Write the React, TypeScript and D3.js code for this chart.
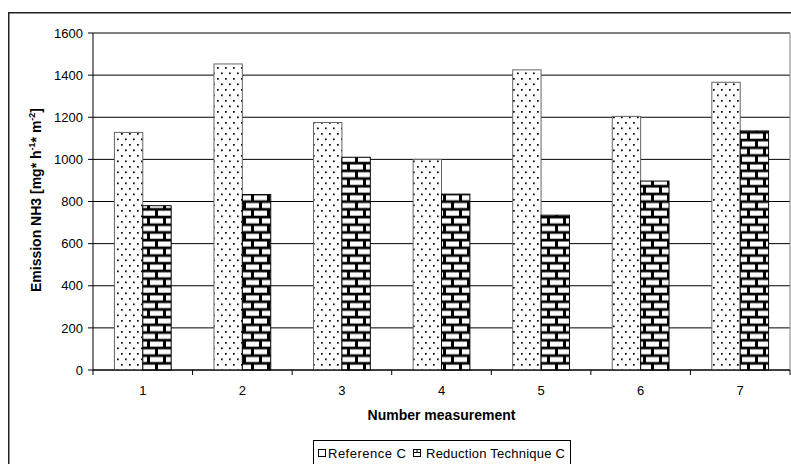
import React from "react";
import * as d3 from "d3";

const categories = ["1", "2", "3", "4", "5", "6", "7"];
const referenceC = [1128, 1453, 1175, 1000, 1425, 1204, 1366];
const reductionC = [780, 833, 1010, 835, 735, 897, 1135];
const yTicks = [0, 200, 400, 600, 800, 1000, 1200, 1400, 1600];
const seriesNames = ["Reference C", "Reduction Technique C"];

const W = 791, H = 464;
const left = 93, right = 790, top = 33, bottom = 370;
const font = "Liberation Sans, Arial, sans-serif";

export default function App() {
  const x = d3.scaleBand<string>().domain(categories).range([left, right]).paddingInner(0).paddingOuter(0);
  const y = d3.scaleLinear().domain([0, 1600]).range([bottom, top]);
  const bw = x.bandwidth();
  const groupPad = bw * 0.215;
  const barW = (bw - 2 * groupPad) / 2;

  return (
    <svg width={W} height={H} style={{ position: "absolute", left: 0, top: 0, background: "#fff" }} fontFamily={font}>
      <defs>
        <pattern id="dots" patternUnits="userSpaceOnUse" width={8} height={11}>
          <rect width={8} height={11} fill="#fff" />
          <rect x={1} y={1} width={1.7} height={1.7} fill="#000" />
          <rect x={5} y={6.5} width={1.7} height={1.7} fill="#000" />
        </pattern>
        <pattern id="bricks" patternUnits="userSpaceOnUse" width={16} height={15.4} x={left} y={bottom}>
          <rect width={16} height={15.4} fill="#000" />
          <rect x={0} y={2.4} width={6} height={5} fill="#fff" />
          <rect x={9} y={2.4} width={7} height={5} fill="#fff" />
          <rect x={1} y={10.1} width={13} height={5} fill="#fff" />
        </pattern>
      </defs>
      <rect x={8.75} y={12.75} width={W} height={H} fill="none" stroke="#222" strokeWidth={1.5} />
      {/* gridlines */}
      {yTicks.map((t) => (
        <line key={"g" + t} x1={left} x2={right} y1={y(t)} y2={y(t)} stroke="#000" strokeWidth={1} />
      ))}
      <line x1={right} x2={right} y1={top} y2={bottom} stroke="#808080" strokeWidth={1} />
      {/* bars */}
      {categories.map((c, i) => {
        const x0 = (x(c) as number) + groupPad;
        return (
          <g key={c}>
            <rect x={x0} y={y(referenceC[i])} width={barW} height={bottom - y(referenceC[i])} fill="url(#dots)" stroke="#666" strokeWidth={1} />
            <rect x={x0 + barW} y={y(reductionC[i])} width={barW} height={bottom - y(reductionC[i])} fill="url(#bricks)" stroke="#000" strokeWidth={1} />
          </g>
        );
      })}
      {/* axes */}
      <line x1={left} x2={left} y1={top} y2={bottom} stroke="#000" />
      <line x1={left} x2={right} y1={bottom} y2={bottom} stroke="#000" />
      {yTicks.map((t) => (
        <g key={"t" + t}>
          <line x1={left - 5} x2={left} y1={y(t)} y2={y(t)} stroke="#000" />
          <text x={left - 10} y={y(t)} dy="0.36em" textAnchor="end" fontSize={13}>{t}</text>
        </g>
      ))}
      {categories.map((c) => (
        <line key={"xt" + c} x1={x(c) as number} x2={x(c) as number} y1={bottom} y2={bottom + 5} stroke="#000" />
      ))}
      <line x1={right} x2={right} y1={bottom} y2={bottom + 5} stroke="#000" />
      {categories.map((c) => (
        <text key={"xl" + c} x={(x(c) as number) + bw / 2} y={395} textAnchor="middle" fontSize={13}>{c}</text>
      ))}
      <text x={(left + right) / 2} y={420} textAnchor="middle" fontSize={14} fontWeight="bold">Number measurement</text>
      <text transform={`translate(41,200) rotate(-90)`} textAnchor="middle" fontSize={14} fontWeight="bold">
        Emission NH3 [mg* h<tspan fontSize={9} dy={-6}>-1</tspan><tspan dy={6}>* m</tspan><tspan fontSize={9} dy={-6}>-2</tspan><tspan dy={6}>]</tspan>
      </text>
      {/* legend */}
      <rect x={313.5} y={440.5} width={257} height={30} fill="#fff" stroke="#000" />
      <rect x={318.5} y={449.5} width={7} height={7} fill="#fff" stroke="#000" />
      <text x={328} y={458} fontSize={13} textLength={78} lengthAdjust="spacing">{seriesNames[0]}</text>
      <rect x={413.5} y={449.5} width={7} height={7} fill="#fff" stroke="#000" />
      <line x1={413.5} x2={420.5} y1={452.5} y2={452.5} stroke="#000" />
      <line x1={417} x2={417} y1={449.5} y2={452.5} stroke="#000" />
      <text x={426} y={458} fontSize={13} textLength={139} lengthAdjust="spacing">{seriesNames[1]}</text>
    </svg>
  );
}
